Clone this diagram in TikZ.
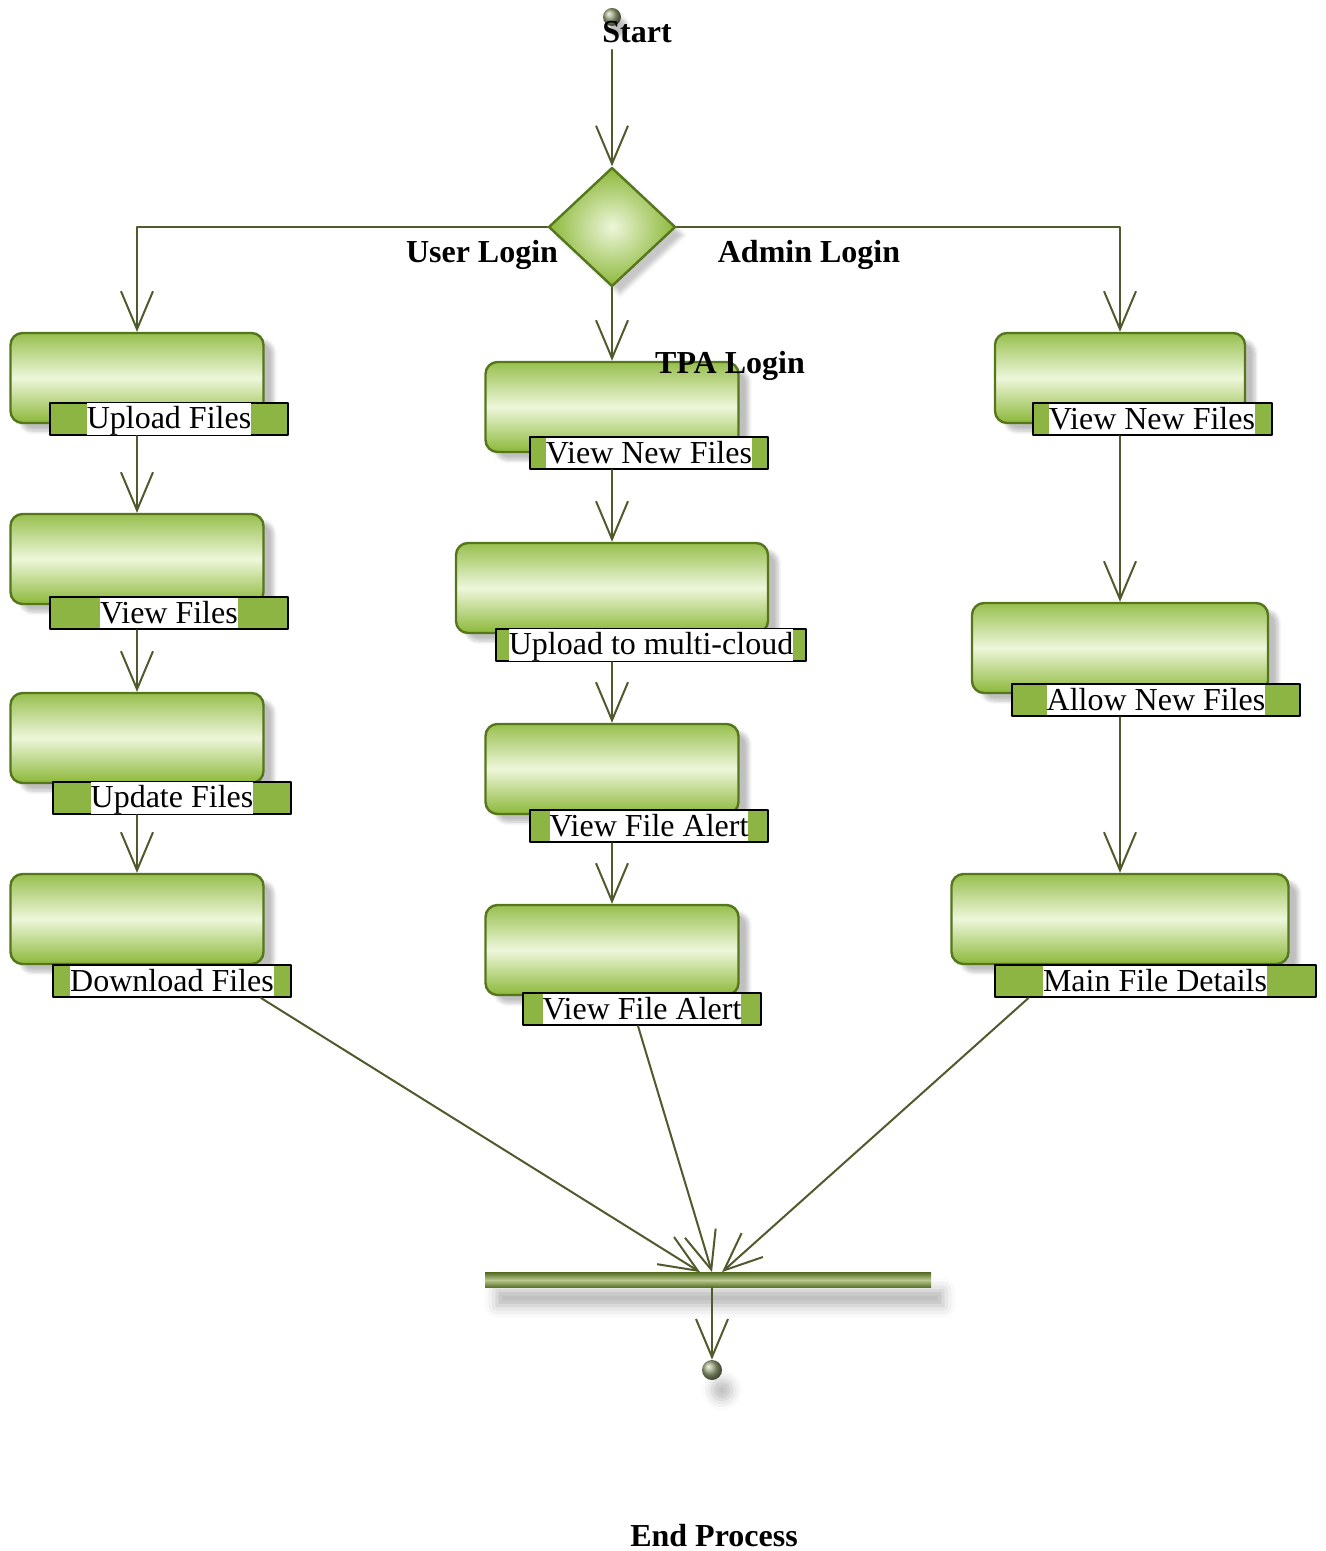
\documentclass[tikz,border=0pt]{standalone}
\usepackage{fontspec}
\setmainfont{Liberation Serif}
\usetikzlibrary{arrows.meta}
\usetikzlibrary{positioning}
\usetikzlibrary{shapes.geometric}
\usetikzlibrary{shadows}
\usetikzlibrary{shadows.blur}
\definecolor{boxgreen}{HTML}{8CB83A}
\definecolor{boxlight}{HTML}{EEF6DA}
\definecolor{boxedge}{HTML}{56761C}
\definecolor{taggreen}{HTML}{8DB543}
\definecolor{flowcol}{HTML}{4F5A2D}
\definecolor{bardark}{HTML}{566E22}
\definecolor{barlight}{HTML}{B9C98F}
\definecolor{ballcol}{HTML}{9AA77C}
\newcommand{\tagtext}[1]{{\setlength{\fboxsep}{0pt}\colorbox{white}{\rule[-2.3pt]{0pt}{14.8pt}#1}}}

\begin{document}
\begin{tikzpicture}[line cap=round,line join=round,x=0.5pt,y=-0.5pt,
  flow/.style={draw=flowcol,line width=1pt,-{Straight Barb[length=19pt,width=16pt]}},
  actbox/.style={rectangle,rounded corners=6pt,draw=boxedge,line width=1.2pt,
    top color=boxgreen!90,bottom color=boxgreen,middle color=boxlight,
    minimum height=45pt,inner sep=0pt,
    blur shadow={shadow xshift=5pt,shadow yshift=-4pt,shadow opacity=25,shadow blur steps=6}},
  tagbar/.style={rectangle,draw=black,line width=1pt,fill=taggreen,
    minimum height=16pt,inner sep=0pt,font=\fontsize{16}{18}\selectfont},
  guard/.style={font=\fontsize{16}{18}\selectfont\bfseries}]
\useasboundingbox (0,0) rectangle (1326,1551);

% start and decision
\node[circle,ball color=ballcol,minimum size=9pt,inner sep=0pt,
  blur shadow={shadow xshift=3pt,shadow yshift=-5pt,shadow opacity=25}] (st) at (612,17) {};
\node[guard] (sttxt) at (637,32) {Start};
\node[diamond,draw=boxedge,line width=1.2pt,inner color=boxlight,outer color=boxgreen,
  minimum width=63.5pt,minimum height=59.5pt,inner sep=0pt,
  blur shadow={shadow xshift=4pt,shadow yshift=-4pt,shadow opacity=22}] (dec) at (612,227) {};
\node[guard] (ulog) at (482,255) {User Login};
\node[guard] (alog) at (809,255) {Admin Login};

% user column
\node[actbox,minimum width=126.5pt] (ub) at (137,378) {};
\node[actbox,minimum width=126.5pt] (vb) at (137,559) {};
\node[actbox,minimum width=126.5pt] (pb) at (137,738) {};
\node[actbox,minimum width=126.5pt] (db) at (137,919) {};
\node[tagbar,minimum width=119pt] (ul) at (169,419) {\tagtext{Upload Files}};
\node[tagbar,minimum width=119pt] (vl) at (169,613) {\tagtext{View Files}};
\node[tagbar,minimum width=119pt] (pl) at (172,798) {\tagtext{Update Files}};
\node[tagbar,minimum width=119pt] (dl) at (172,981) {\tagtext{Download Files}};

% tpa column
\node[actbox,minimum width=126.5pt] (tvb) at (612,407) {};
\node[actbox,minimum width=156pt] (tub) at (612,588) {};
\node[actbox,minimum width=126.5pt] (tab) at (612,769) {};
\node[actbox,minimum width=126.5pt] (tcb) at (612,950) {};
\node[guard] (tlog) at (730,366) {TPA Login};
\node[tagbar,minimum width=119pt] (tvl) at (649,453) {\tagtext{View New Files}};
\node[tagbar,minimum width=155pt] (tul) at (651,645) {\tagtext{Upload to multi-cloud}};
\node[tagbar,minimum width=119pt] (tal) at (649,826) {\tagtext{View File Alert}};
\node[tagbar,minimum width=119pt] (tcl) at (642,1009) {\tagtext{View File Alert}};

% admin column
\node[actbox,minimum width=125pt] (avb) at (1120,378) {};
\node[actbox,minimum width=148pt] (anb) at (1120,648) {};
\node[actbox,minimum width=168.5pt] (amb) at (1120,919) {};
\node[tagbar,minimum width=119.5pt] (avl) at (1152,419) {\tagtext{View New Files}};
\node[tagbar,minimum width=144pt] (anl) at (1156,700) {\tagtext{Allow New Files}};
\node[tagbar,minimum width=160.5pt] (aml) at (1155,981) {\tagtext{Main File Details}};

% join bar and end
\node[rectangle,minimum width=223pt,minimum height=7.5pt,inner sep=0pt,
  top color=bardark,bottom color=bardark,middle color=barlight,
  blur shadow={shadow xshift=6pt,shadow yshift=-9pt,shadow opacity=30,shadow blur radius=6pt}] (bar) at (708,1280) {};
\coordinate (j1) at ([xshift=-4pt]bar.north);
\coordinate (j2) at ([xshift=2pt]bar.north);
\coordinate (j3) at ([xshift=7pt]bar.north);
\node[circle,ball color=ballcol,minimum size=10pt,inner sep=0pt,
  blur shadow={shadow xshift=5pt,shadow yshift=-10pt,shadow opacity=25,shadow blur radius=5pt}] (en) at (712,1370) {};
\node[guard] (entxt) at (714,1536) {End Process};

\draw[flow] (st |- sttxt.south) -- (dec.north);
\draw[flow] (dec.west) -| (ub.north);
\draw[flow] (dec.east) -| (avb.north);
\draw[flow] (dec.south) -- (tvb.north);

\draw[flow] (ub |- ul.south) -- (vb.north);
\draw[flow] (vb |- vl.south) -- (pb.north);
\draw[flow] (pb |- pl.south) -- (db.north);

\draw[flow] (tvb |- tvl.south) -- (tub.north);
\draw[flow] (tub |- tul.south) -- (tab.north);
\draw[flow] (tab |- tal.south) -- (tcb.north);

\draw[flow] (avb |- avl.south) -- (anb.north);
\draw[flow] (anb |- anl.south) -- (amb.north);

\draw[flow] ([xshift=-15.5pt]dl.south east) -- (j1);
\draw[flow] ([xshift=-2pt]tcl.south) -- (j2);
\draw[flow] ([xshift=17.5pt]aml.south west) -- (j3);
\draw[flow] (bar.south -| en) -- (en.north);
\end{tikzpicture}
\end{document}
